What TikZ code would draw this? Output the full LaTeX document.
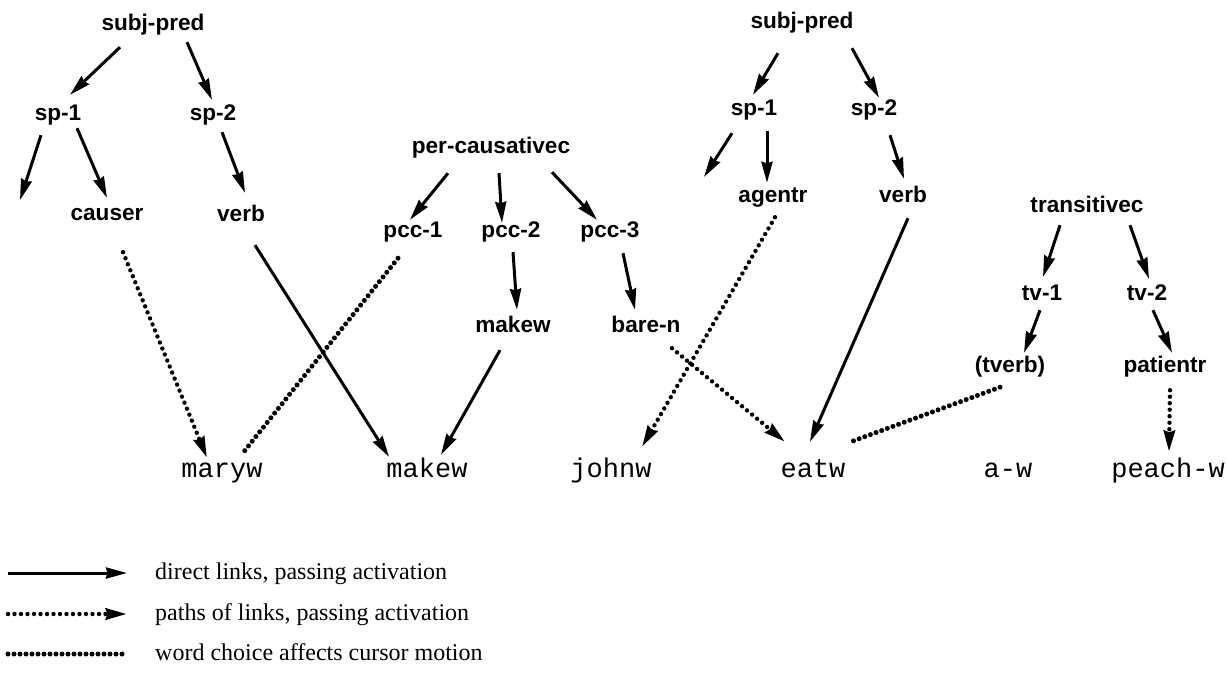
\documentclass[tikz,border=0pt]{standalone}
\usepackage{fontspec}
\setmainfont{Liberation Serif}
\newfontfamily\consfont{Liberation Sans}
\newfontfamily\wordfont{Liberation Mono}
\usetikzlibrary{arrows.meta}

\tikzset{
	cons/.style={font=\consfont\bfseries\fontsize{22.6}{26}\selectfont, inner sep=0pt, text height=16pt, text depth=5pt},
	word/.style={font=\wordfont\fontsize{27}{30}\selectfont, inner sep=0pt, text height=19pt, text depth=6pt},
	key/.style={font=\fontsize{24}{28}\selectfont, anchor=west, inner sep=0pt, text height=17pt, text depth=5pt},
	link/.style={line width=3pt, -{Stealth[length=21pt,width=11pt,inset=1.5pt]}},
	reach/.style={line width=4.4pt, line cap=round, dash pattern=on 0pt off 6.5pt, -{Stealth[length=21pt,width=11pt,inset=1.5pt]}},
	choice/.style={line width=5pt, line cap=round, dash pattern=on 0pt off 6pt},
}

\begin{document}
\begin{tikzpicture}[x=1pt, y=-1pt]
	\useasboundingbox (0,0) rectangle (1227,673);

	% first clause
	\node[cons] (subjL) at (153,25) {subj-pred};
	\node[cons] (sp1L) at (58,115) {sp-1};
	\node[cons] (sp2L) at (213,115) {sp-2};
	\node[cons] (causer) at (107,215) {causer};
	\node[cons] (verbL) at (241,216) {verb};
	\coordinate (openL) at (20,200);

	% causative construction
	\node[cons] (percaus) at (491,148) {per-causativec};
	\node[cons] (pcc1) at (413,232) {pcc-1};
	\node[cons] (pcc2) at (511,232) {pcc-2};
	\node[cons] (pcc3) at (610,232) {pcc-3};
	\node[cons] (makec) at (513,327) {makew};
	\node[cons] (baren) at (646,327) {bare-n};

	% second clause
	\node[cons] (subjR) at (802,23) {subj-pred};
	\node[cons] (sp1R) at (754,110) {sp-1};
	\node[cons] (sp2R) at (874,110) {sp-2};
	\node[cons] (agentr) at (773,197) {agentr};
	\node[cons] (verbR) at (903,197) {verb};
	\coordinate (openR) at (704,177);

	% transitive construction
	\node[cons] (trans) at (1087,207) {transitivec};
	\node[cons] (tv1) at (1042,295) {tv-1};
	\node[cons] (tv2) at (1147,295) {tv-2};
	\node[cons] (tverb) at (1010,367) {(tverb)};
	\node[cons] (patientr) at (1165,367) {patientr};

	% the words
	\node[word] (mary) at (222,470.5) {maryw};
	\node[word] (makew) at (427,470.5) {makew};
	\node[word] (john) at (611,470.5) {johnw};
	\node[word] (eat) at (813,470.5) {eatw};
	\node[word] (aw) at (1008,470.5) {a-w};
	\node[word] (peach) at (1168,470.5) {peach-w};

	\draw[link] ([shift={(-33,11.5)}]subjL.south) -- ([shift={(12,-9.5)}]sp1L.north);
	\draw[link] ([shift={(34,6.5)}]subjL.south) -- ([shift={(-1,-4.5)}]sp2L.north);
	\draw[link] ([shift={(-17,9.5)}]sp1L.south) -- (openL);
	\draw[link] ([shift={(19,2.5)}]sp1L.south) -- ([shift={(0,-6.5)}]causer.north);
	\draw[link] ([shift={(9,6.5)}]sp2L.south) -- ([shift={(4,-12.5)}]verbL.north);
	\draw[reach] ([shift={(16,26.5)}]causer.south) -- ([shift={(-15,0)}]mary.north);
	\draw[link] ([shift={(14,18.5)}]verbL.south) -- ([shift={(-38,-1)}]makew.north);

	\draw[link] ([shift={(-43,14.5)}]percaus.south) -- ([shift={(-3,-1.5)}]pcc1.north);
	\draw[link] ([shift={(8,14.5)}]percaus.south) -- ([shift={(-9,1.5)}]pcc2.north);
	\draw[link] ([shift={(61,13.5)}]percaus.south) -- ([shift={(-13,-1.5)}]pcc3.north);
	\draw[choice] ([shift={(-15,15.5)}]pcc1.south) -- ([shift={(21,-5)}]mary.north);
	\draw[link] ([shift={(2,9.5)}]pcc2.south) -- ([shift={(4,-6.5)}]makec.north);
	\draw[link] ([shift={(13,10.5)}]pcc3.south) -- ([shift={(-11,-6.5)}]baren.north);
	\draw[link] ([shift={(-13,12.5)}]makec.south) -- ([shift={(14,-3)}]makew.north);
	\draw[reach] ([shift={(26,10.5)}]baren.south) -- ([shift={(-28,-16)}]eat.north);

	\draw[link] ([shift={(-24,19.5)}]subjR.south) -- ([shift={(-1,-4.5)}]sp1R.north);
	\draw[link] ([shift={(50,14.5)}]subjR.south) -- ([shift={(5,-1.5)}]sp2R.north);
	\draw[link] ([shift={(-22,12.5)}]sp1R.south) -- (openR);
	\draw[link] ([shift={(13,10.5)}]sp1R.south) -- ([shift={(-6,-3.5)}]agentr.north);
	\draw[link] ([shift={(16,14.5)}]sp2R.south) -- ([shift={(1,-7.5)}]verbR.north);
	\draw[reach] ([shift={(2,9.5)}]agentr.south) -- ([shift={(31,-11)}]john.north);
	\draw[link] ([shift={(5,10.5)}]verbR.south) -- ([shift={(-3,-16)}]eat.north);

	\draw[link] ([shift={(-27,7.5)}]trans.south) -- ([shift={(1,-7.5)}]tv1.north);
	\draw[link] ([shift={(43,7.5)}]trans.south) -- ([shift={(2,-5.5)}]tv2.north);
	\draw[link] ([shift={(-2,4.5)}]tv1.south) -- ([shift={(14,-3.5)}]tverb.north);
	\draw[link] ([shift={(6,4.5)}]tv2.south) -- ([shift={(7,-3.5)}]patientr.north);
	\draw[choice] ([shift={(-10,9.5)}]tverb.south) -- ([shift={(35,-15)}]eat.north);
	\draw[reach] ([shift={(5,12.5)}]patientr.south) -- ([shift={(1,-6)}]peach.north);

	% key
	\node[key] (k1) at (155,573) {direct links, passing activation};
	\node[key] (k2) at (155,614) {paths of links, passing activation};
	\node[key] (k3) at (155,654) {word choice affects cursor motion};
	\draw[link] ([xshift=-147pt]k1.west) -- ([xshift=-28pt]k1.west);
	\draw[reach] ([xshift=-147pt]k2.west) -- ([xshift=-28pt]k2.west);
	\draw[choice] ([xshift=-147pt]k3.west) -- ([xshift=-32pt]k3.west);
\end{tikzpicture}
\end{document}
